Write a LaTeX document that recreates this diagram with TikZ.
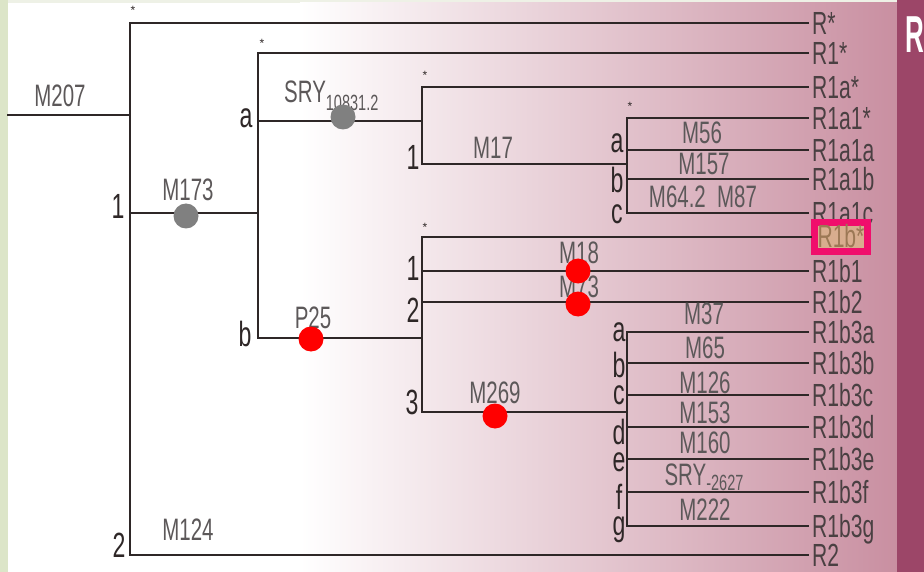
\documentclass[tikz,border=0pt]{standalone}
\usepackage{fontspec}
\setmainfont{Liberation Sans}
\usepackage{graphicx}
\definecolor{lineC}{HTML}{2E2727}
\definecolor{pinkM}{HTML}{EAD8DC}
\definecolor{pinkR}{HTML}{C98FA1}
\definecolor{bandC}{HTML}{9C4668}
\definecolor{leafC}{HTML}{4A4042}
\definecolor{mkC}{HTML}{5C5859}
\definecolor{hlC}{HTML}{F00E6C}
\definecolor{tanC}{HTML}{D8AD8E}
\definecolor{tanT}{HTML}{9C7855}
\definecolor{leafG}{HTML}{DCE5C8}
\definecolor{topC}{HTML}{EEF1E6}
\newcommand\cnd[1]{\scalebox{0.66}[1]{#1}}

\begin{document}
\begin{tikzpicture}[x=1pt,y=-1pt,
  br/.style={draw=lineC,line width=2.8pt,line cap=rect},
  leaf/.style={anchor=west,inner xsep=4pt,inner ysep=0pt,text height=23pt,text depth=0pt,text=leafC,font=\fontsize{32}{32}\selectfont},
  hl/.style={draw=hlC,line width=7pt,fill=tanC,text=tanT,inner xsep=3pt,minimum height=29pt},
  mk/.style={inner sep=0pt,text=mkC,font=\fontsize{31}{31}\selectfont},
  brl/.style={inner sep=0pt,text=lineC,font=\fontsize{35}{35}\selectfont},
  ast/.style={inner sep=0pt,text=lineC,font=\fontsize{12}{12}\selectfont},
  gdot/.style={circle,fill=black!50,inner sep=0pt,minimum size=25pt},
  rdot/.style={circle,fill=red,inner sep=0pt,minimum size=25pt}]
  \useasboundingbox (0,0) rectangle (924,572);
  \fill[topC] (0,0) rectangle (897,572);
  \fill[leafG] (0,0) rectangle (8,572);
  \fill[white] (8,3) rectangle (897,572);
  \shade[left color=white,middle color=pinkM,right color=pinkR] (300,3) rectangle (897,572);
  \fill[bandC] (897,0) rectangle (924,572);
  \node[anchor=west,inner sep=0pt,text=white,font=\bfseries\fontsize{52}{52}\selectfont] (hR) at (905,35) {\scalebox{0.5}[1]{R}};

  \foreach \n/\y/\t in {Rx/23/R*,R1x/53/R1*,R1ax/87/R1a*,R1a1x/118/R1a1*,R1a1a/150/R1a1a,R1a1b/179/R1a1b,R1a1c/213/R1a1c,R1b1/271/R1b1,R1b2/302/R1b2,R1b3a/332/R1b3a,R1b3b/363/R1b3b,R1b3c/395/R1b3c,R1b3d/427/R1b3d,R1b3e/459/R1b3e,R1b3f/492/R1b3f,R1b3g/526/R1b3g,R2/555/R2}
    \node[leaf] (\n) at (808,\y) {\cnd{\t}};
  \node[leaf,hl,text height=21pt] (R1bx) at (811,237) {\cnd{R1b*}};

  \coordinate (in) at (8,115);
  \coordinate (s0) at (130,115);
  \coordinate (j1) at (258,213);
  \coordinate (ja) at (422,121);
  \coordinate (jb) at (422,338);
  \coordinate (jm17) at (627,164);
  \coordinate (jm269) at (627,412);

  \draw[br] (in) -- (s0);
  \draw[br] (s0 |- Rx.west) -- (s0 |- R2.west);
  \draw[br] (s0 |- j1) -- (j1);
  \draw[br] (j1 |- R1x.west) -- (j1 |- jb);
  \draw[br] (j1 |- ja) -- (ja);
  \draw[br] (j1 |- jb) -- (jb);
  \draw[br] (ja |- R1ax.west) -- (ja |- jm17);
  \draw[br] (ja |- jm17) -- (jm17);
  \draw[br] (jm17 |- R1a1x.west) -- (jm17 |- R1a1c.west);
  \draw[br] (jb |- R1bx.west) -- (jb |- jm269);
  \draw[br] (jb |- jm269) -- (jm269);
  \draw[br] (jm269 |- R1b3a.west) -- (jm269 |- R1b3g.west);
  \foreach \n/\s in {Rx/s0,R2/s0,R1x/j1,R1ax/ja,R1bx/jb,R1b1/jb,R1b2/jb,R1a1x/jm17,R1a1a/jm17,R1a1b/jm17,R1a1c/jm17,R1b3a/jm269,R1b3b/jm269,R1b3c/jm269,R1b3d/jm269,R1b3e/jm269,R1b3f/jm269,R1b3g/jm269}
    \draw[br] (\s |- \n.west) -- (\n.west);

  \foreach \n/\x/\y/\t in {lM207/60/96/M207,lM173/188/190/M173,lP25/313/318/P25,lM124/188/530/M124,lM17/493/148/M17,lM56/702/133/M56,lM157/704/164/M157,lM87/703/197/M64.2\ \ M87,lM18/579/253/M18,lM73/579/287/M73,lM269/495/393/M269,lM37/704/314/M37,lM65/705/348/M65,lM126/705/383/M126,lM153/705/413/M153,lM160/705/443/M160,lM222/705/510/M222}
    \node[mk] (\n) at (\x,\y) {\cnd{\t}};
  \node[mk,anchor=west] (lSRYa) at (284,96) {\cnd{SRY\raisebox{-8pt}{\fontsize{22}{22}\selectfont 10831.2}}};
  \node[mk] (lSRYb) at (704,477) {\cnd{SRY\raisebox{-5pt}{\fontsize{22}{22}\selectfont -2627}}};

  \node[gdot] (d173) at (186,216) {};
  \node[gdot] (dSRY) at (343,117) {};
  \node[rdot] (dP25) at (311,339) {};
  \node[rdot] (dM18) at (578,271) {};
  \node[rdot] (dM73) at (578,304) {};
  \node[rdot] (dM269) at (495,416) {};

  \foreach \n/\x/\y/\t in {k1/118/206/1,k2/119/545/2,ka/246/118/a,kb/245/334/b,ka1/413/157/1,kb1/413/268/1,kb2/413/310/2,kb3/412/402/3,kaa/617/143/a,kab/617/180/b,kac/617/214/c,kba/619/332/a,kbb/619/365/b,kbc/619/395/c,kbd/619/432/d,kbe/619/462/e,kbf/619/497/f,kbg/619/530/g}
    \node[brl] (\n) at (\x,\y) {\cnd{\t}};
  \foreach \n/\x/\y in {a0/133/10,a1/262/43,a2/425/75,a3/630/106,a4/425/227}
    \node[ast] (\n) at (\x,\y) {*};
\end{tikzpicture}
\end{document}
